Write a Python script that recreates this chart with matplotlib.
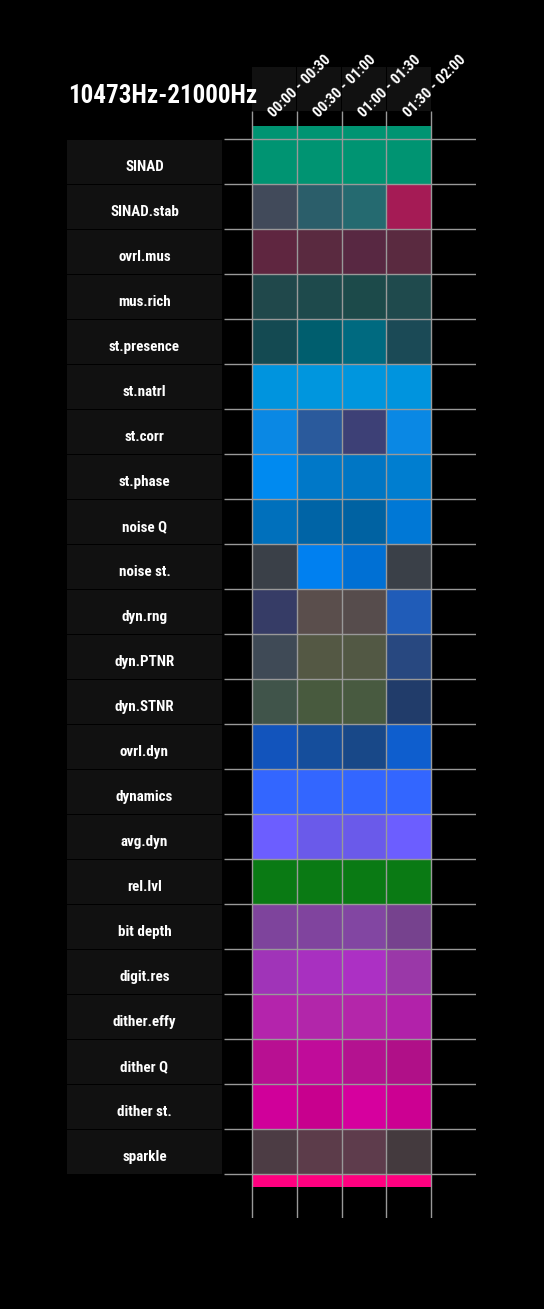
import numpy as np
import matplotlib
matplotlib.use('Agg')
from matplotlib import pyplot as plt
from matplotlib.colors import to_rgb

plt.rcParams['font.family'] = ['Roboto Condensed', 'Open Sans Condensed', 'Liberation Sans Narrow', 'Roboto', 'DejaVu Sans']
plt.rcParams['font.weight'] = 'bold'

title = '10473Hz-21000Hz'
periods = ['00:00 - 00:30', '00:30 - 01:00', '01:00 - 01:30', '01:30 - 02:00']
metrics = ['SINAD', 'SINAD.stab', 'ovrl.mus', 'mus.rich', 'st.presence', 'st.natrl',
           'st.corr', 'st.phase', 'noise Q', 'noise st.', 'dyn.rng', 'dyn.PTNR',
           'dyn.STNR', 'ovrl.dyn', 'dynamics', 'avg.dyn', 'rel.lvl', 'bit depth',
           'digit.res', 'dither.effy', 'dither Q', 'dither st.', 'sparkle']

# cell colours, one row per metric, one entry per period
cell_colors = [
    ['#009472', '#009472', '#009472', '#009472'],
    ['#414A5A', '#2B5E6A', '#256A70', '#A51B55'],
    ['#5F2640', '#5A2A40', '#582842', '#5A2A40'],
    ['#20484B', '#1E4A4C', '#1C4A4A', '#1F4A4D'],
    ['#144A52', '#005E6E', '#006A80', '#1B4A56'],
    ['#0094DE', '#0096DE', '#0096DE', '#0094DE'],
    ['#0A88E4', '#2A5A9C', '#3D4076', '#0A88E4'],
    ['#008AF0', '#0078C8', '#0076C4', '#007ED0'],
    ['#0070BC', '#0064A6', '#0062A2', '#0078D6'],
    ['#3A4048', '#0080F0', '#0070D4', '#3A4048'],
    ['#363C66', '#5A4E4C', '#564C4C', '#205CB8'],
    ['#3F4A56', '#545844', '#525844', '#284880'],
    ['#40544A', '#485A3E', '#485A40', '#213C6A'],
    ['#1254BC', '#154E9C', '#184888', '#0E5ECE'],
    ['#3366FF', '#3366FF', '#3366FF', '#3366FF'],
    ['#6C5EFF', '#6A5AEA', '#6A5AEA', '#6C5EFF'],
    ['#0A7A14', '#0A7A14', '#0A7A14', '#0A7A14'],
    ['#7E449C', '#80449E', '#8246A2', '#76428E'],
    ['#A034B8', '#A830C0', '#AC30C4', '#9A38A8'],
    ['#B424AC', '#B226AA', '#B426AA', '#B222AA'],
    ['#B81092', '#C00C9A', '#B41290', '#B01088'],
    ['#D0009A', '#C8008E', '#D6009E', '#CC0092'],
    ['#4C3C44', '#5C3C4A', '#5E3C4C', '#443A3E'],
]
top_strip = '#009472'
bottom_strip = '#FF0080'

W, H = 544, 1309
fig = plt.figure(figsize=(W / 100, H / 100), dpi=100, facecolor='black')

def px_axes(x0, y0, x1, y1):
    a = fig.add_axes([x0 / W, 1 - y1 / H, (x1 - x0) / W, (y1 - y0) / H])
    a.set_facecolor('none')
    a.axis('off')
    return a

n_rows = len(metrics)
n_cols = len(periods)
ylim = (n_rows + 0.978, -0.622)
cols = np.arange(n_cols) + 0.5

# header boxes
hax = px_axes(252, 67, 431, 111)
hax.bar(cols, 1, width=0.98, color='#111111')
hax.set_xlim(0, n_cols)
hax.set_ylim(0, 1)

# heatmap
ax = px_axes(224, 111, 476, 1218)
ax.set_zorder(3)
rgb = np.array([[to_rgb(c) for c in row] for row in cell_colors])
ax.imshow(rgb, extent=(0, n_cols, n_rows, 0), aspect='auto', interpolation='nearest')
ax.bar(cols, 0.29, bottom=-0.29, width=1, color=top_strip)
ax.bar(cols, 0.29, bottom=n_rows, width=1, color=bottom_strip)
ax.set_xlim(-0.625, n_cols + 1)
ax.set_ylim(*ylim)
ax.vlines(np.arange(n_cols + 1), ylim[1], ylim[0], color='#999999', lw=1, zorder=5)
ax.hlines(np.arange(n_rows + 1), -0.625, n_cols + 1, color='#999999', lw=1, zorder=5)

for i, p in enumerate(periods):
    ax.text(i + 0.5, -0.47, p, rotation=45, rotation_mode='anchor', ha='left', va='baseline',
            color='white', fontsize=10.8, clip_on=False, zorder=6)

# row labels
lax = px_axes(67, 111, 222, 1218)
lax.barh(np.arange(n_rows) + 0.51, 1, height=0.96, color='#111111')
lax.set_xlim(0, 1)
lax.set_ylim(*ylim)
for i, m in enumerate(metrics):
    lax.text(0.5, i + 0.62, m, ha='center', va='center', color='white', fontsize=10.8)

fig.text(68 / W, 1 - 96 / H, title, ha='left', va='center', color='white', fontsize=18)

fig.savefig('out.png', dpi=100, facecolor='black')
